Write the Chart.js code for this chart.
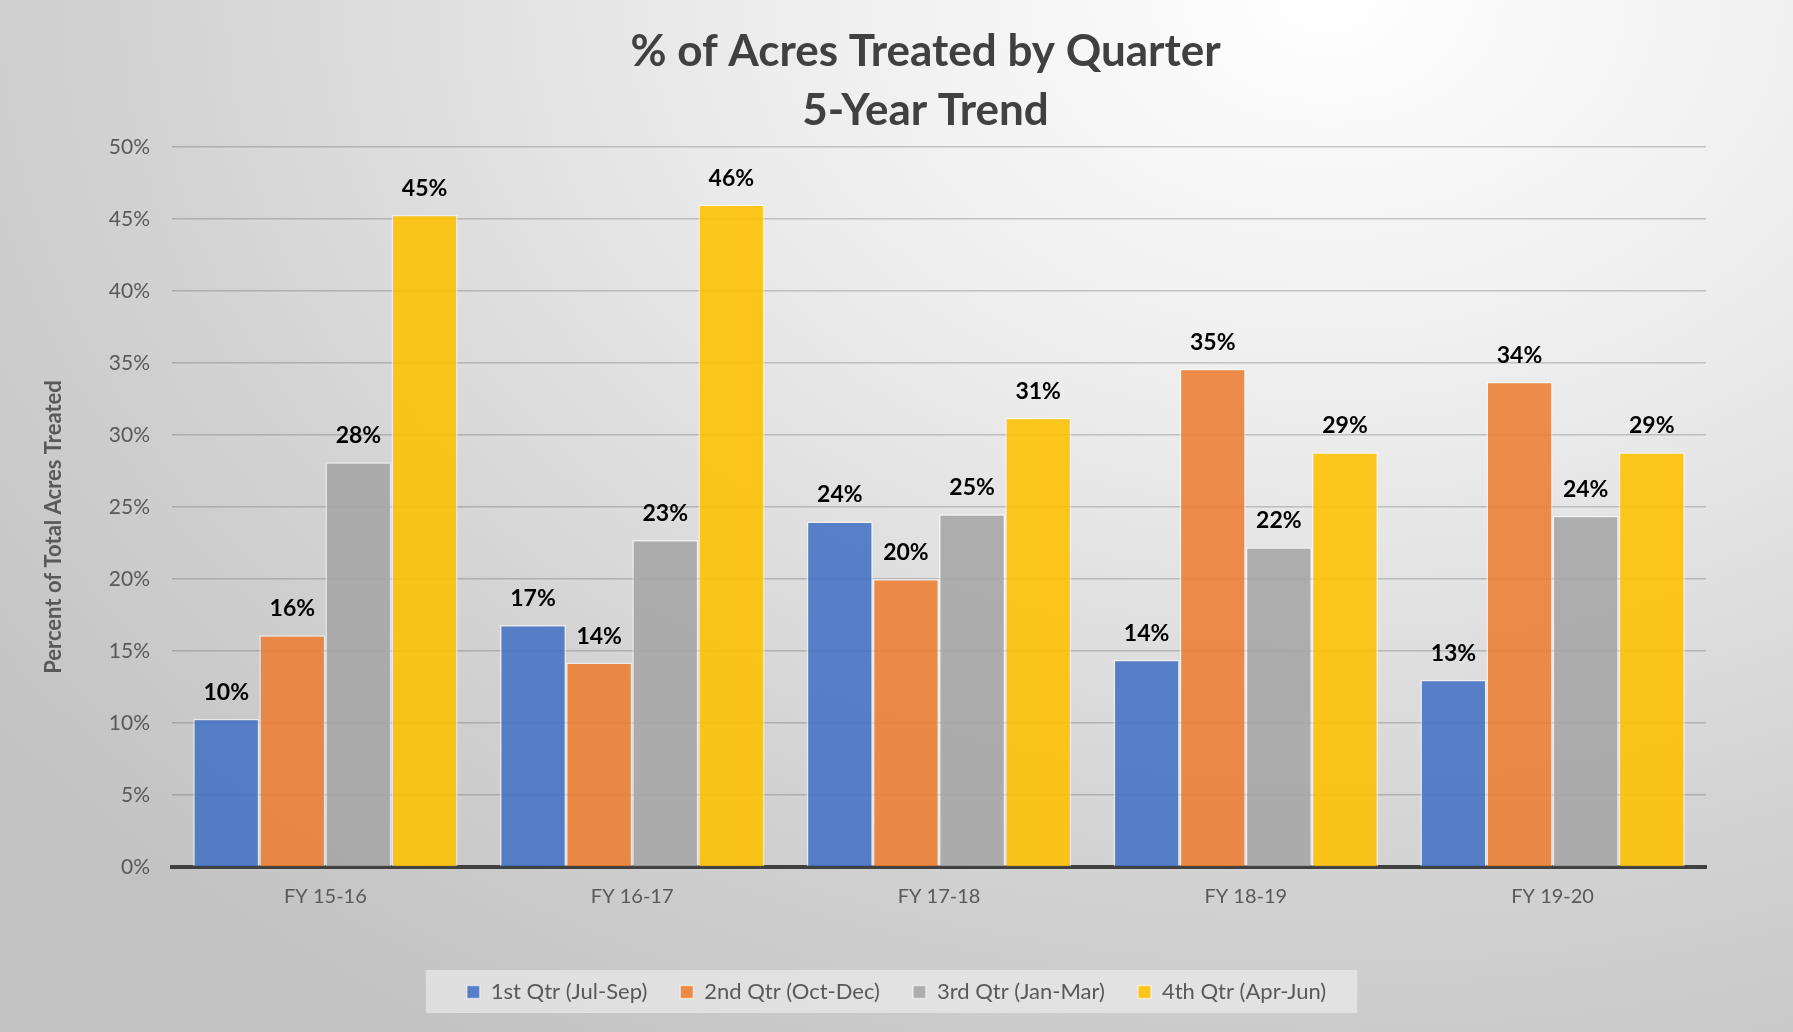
<!DOCTYPE html>
<html>
<head>
<meta charset="utf-8">
<script src="https://cdn.jsdelivr.net/npm/chart.js@4.4.1/dist/chart.umd.min.js"></script>
<style>
  html, body { margin:0; padding:0; }
  body {
    width:1793px; height:1032px; overflow:hidden;
    background: radial-gradient(ellipse 95% 120% at 74% 0%, #ffffff 0%, #ececec 35%, #d4d4d4 68%, #c2c2c2 100%);
  }
  #wrap { position:relative; width:1793px; height:1032px; }
</style>
</head>
<body>
<div id="wrap"><canvas id="c" width="1793" height="1032"></canvas></div>
<script>
const YEARS = ['FY 15-16','FY 16-17','FY 17-18','FY 18-19','FY 19-20'];
const Q1 = [10.3, 16.8, 24.0, 14.4, 13.0];
const Q2 = [16.1, 14.2, 20.0, 34.6, 33.7];
const Q3 = [28.1, 22.7, 24.5, 22.2, 24.4];
const Q4 = [45.3, 46.0, 31.2, 28.8, 28.8];
const SERIES = ['1st Qtr (Jul-Sep)','2nd Qtr (Oct-Dec)','3rd Qtr (Jan-Mar)','4th Qtr (Apr-Jun)'];
const COLORS = ['68,114,196','237,125,49','165,165,165','255,192,0'];
const TITLE = ['% of Acres Treated by Quarter','5-Year Trend'];
const Y_TITLE = 'Percent of Total Acres Treated';

const FONT = 'Lato, "Open Sans", sans-serif';
const TXT = '#595959';

// chart title (2 lines) and the rotated y title, placed like the original
const titlePlug = {
  id:'title2',
  afterDraw(chart){
    const ctx = chart.ctx;
    ctx.save();
    ctx.font = `bold 44px ${FONT}`;
    ctx.fillStyle = '#404040';
    ctx.textAlign = 'center';
    ctx.textBaseline = 'middle';
    const cx = chart.width/2 + 29;
    ctx.fillText(TITLE[0], cx, 52);
    ctx.fillText(TITLE[1], cx, 111);

    ctx.font = `bold 22px ${FONT}`;
    ctx.fillStyle = TXT;
    ctx.translate(54, (chart.chartArea.top + chart.chartArea.bottom)/2 + 20);
    ctx.rotate(-Math.PI/2);
    ctx.fillText(Y_TITLE, 0, 0);
    ctx.restore();
  }
};

// value labels above each bar
const labelPlug = {
  id:'vals',
  afterDatasetsDraw(chart){
    const ctx = chart.ctx;
    ctx.save();
    ctx.font = `bold 23px ${FONT}`;
    ctx.fillStyle = '#000';
    ctx.textAlign = 'center';
    ctx.textBaseline = 'alphabetic';
    chart.data.datasets.forEach((ds,i)=>{
      chart.getDatasetMeta(i).data.forEach((bar,j)=>{
        ctx.fillText(Math.round(ds.data[j])+'%', bar.x, bar.y-19);
      });
    });
    ctx.restore();
  }
};

// light panel behind the legend
const legendBg = {
  id:'legendBg',
  beforeDraw(chart){
    const lg = chart.legend;
    if(!lg || !lg.legendHitBoxes.length) return;
    const hb = lg.legendHitBoxes;
    const l = Math.min(...hb.map(h=>h.left)) - 41;
    const r = Math.max(...hb.map(h=>h.left+h.width)) + 31;
    const cy = hb[0].top + hb[0].height/2;
    const ctx = chart.ctx;
    ctx.save();
    ctx.fillStyle = 'rgba(240,240,240,0.6)';
    ctx.fillRect(l, cy-22, r-l, 43);
    ctx.restore();
  }
};

const datasets = [Q1,Q2,Q3,Q4].map((d,i)=>({
  label: SERIES[i],
  data: d,
  backgroundColor: `rgba(${COLORS[i]},0.88)`,
  borderColor: 'rgba(255,255,255,0.55)',
  borderWidth: 1.5,
  categoryPercentage: 0.862,
  barPercentage: 1.0
}));

new Chart(document.getElementById('c'), {
  type:'bar',
  data:{ labels:YEARS, datasets },
  plugins:[legendBg, labelPlug, titlePlug],
  options:{
    responsive:false,
    animation:false,
    layout:{ padding:{ top:147, right:0, bottom:19, left:0 } },
    plugins:{
      title:{ display:false },
      tooltip:{ enabled:false },
      legend:{
        position:'bottom',
        labels:{
          font:{ family:FONT, size:22 },
          color:TXT,
          boxWidth:13, boxHeight:13,
          padding:33
        }
      }
    },
    scales:{
      x:{
        afterFit(s){ s.height = 81; },
        grid:{ display:false, drawTicks:false },
        border:{ display:true, color:'#404040', width:4 },
        ticks:{ font:{ family:FONT, size:20 }, color:TXT, padding:18 }
      },
      y:{
        min:0, max:50,
        afterFit(s){ s.width = 172; },
        grid:{ color:'rgba(90,90,90,0.3)', lineWidth:1.5, drawTicks:false },
        border:{ display:false },
        ticks:{ stepSize:5, font:{ family:FONT, size:21 }, color:TXT, padding:22,
          callback:v=>v+'%' }
      },
      // empty right-hand spacer so the plot ends where the original does
      spacer:{
        type:'linear', position:'right',
        afterFit(s){ s.width = 87; },
        grid:{ display:false }, border:{ display:false },
        ticks:{ display:false }
      }
    }
  }
});
</script>
</body>
</html>
